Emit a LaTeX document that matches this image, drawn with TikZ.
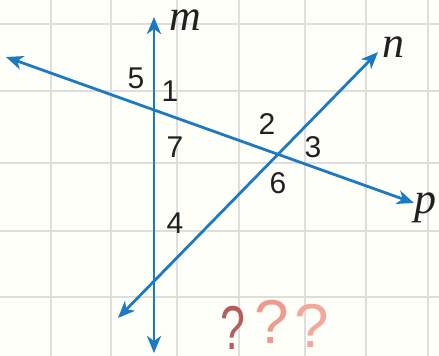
\documentclass[tikz,border=0pt]{standalone}
\usepackage{fontspec}
\setmainfont{Liberation Serif}
\newfontfamily\numfont{Liberation Sans}
\usetikzlibrary{arrows.meta}
\definecolor{lineblue}{HTML}{1C7AC2}
\definecolor{gridgray}{HTML}{DEDEDE}
\definecolor{txt}{HTML}{231F20}
\definecolor{qdark}{HTML}{B95B5B}
\definecolor{qmid}{HTML}{EF9A8C}
\definecolor{qlight}{HTML}{F4A89C}
\tikzset{
  gridline/.style={draw=gridgray, line width=1.4pt},
  bline/.style={draw=lineblue, line width=2.8pt, {Stealth[length=17pt,width=14pt,inset=5pt]}-{Stealth[length=17pt,width=14pt,inset=5pt]}},
  numlab/.style={font=\numfont\fontsize{30}{30}\selectfont, text=txt, inner sep=0pt},
  letlab/.style={font=\itshape\fontsize{44}{44}\selectfont, text=txt, inner sep=0pt, anchor=base},
  qmark/.style={font=\numfont\fontsize{62}{62}\selectfont, inner sep=0pt, anchor=base}
}
\begin{document}
\begin{tikzpicture}[x=1pt,y=-1pt]
\fill[white!98!yellow] (0,0) rectangle (439,356);
\useasboundingbox (0,0) rectangle (439,356);
\foreach \gx in {51,111,177,239,305,366,428} \draw[gridline] (\gx,0) -- (\gx,356);
\foreach \gy in {24,91,163,231,297} \draw[gridline] (0,\gy) -- (439,\gy);
% line ends
\coordinate (mtop) at (154,17);
\coordinate (mbot) at (154,353);
\coordinate (pleft) at (6,57);
\coordinate (pright) at (414,203);
\coordinate (nbot) at (118,318);
\coordinate (ntop) at (378,52);
\draw[bline] (mbot) -- (mtop);
\draw[bline] (pleft) -- (pright);
\draw[bline] (nbot) -- (ntop);
% line labels
\node[letlab] (lm) at (185,30) {m};
\node[letlab] (ln) at (393,57) {n};
\node[letlab] (lp) at (425,213) {p};
% angle numbers
\node[numlab] (a5) at (136,78) {5};
\node[numlab] (a1) at (170,91) {1};
\node[numlab] (a7) at (175,147) {7};
\node[numlab] (a2) at (267,124) {2};
\node[numlab] (a3) at (313,147) {3};
\node[numlab] (a6) at (278,183) {6};
\node[numlab] (a4) at (175,223) {4};
% question marks
\node[qmark, text=qdark, xscale=0.72] (q1) at (233,349) {?};
\node[qmark, text=qmid] (q2) at (272,343) {?};
\node[qmark, text=qlight] (q3) at (312,347) {?};
\end{tikzpicture}
\end{document}
